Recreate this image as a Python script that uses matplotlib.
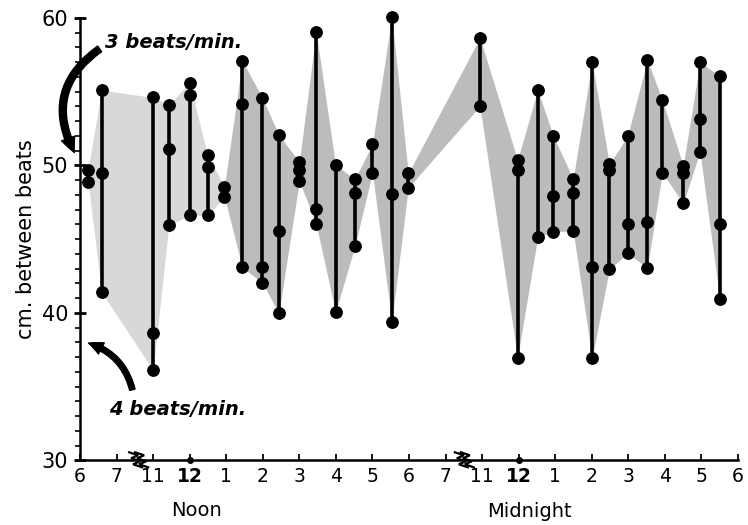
import numpy as np
import matplotlib
matplotlib.use("Agg")
import matplotlib.pyplot as plt
from matplotlib.patches import FancyArrowPatch

# ---- data (x = position on the hour axis, index of tick) ----
times = [0.22, 0.59, 2.0, 2.43, 3.0, 3.49, 3.95, 4.44, 4.99, 5.44, 6.0, 6.46, 6.99, 7.52,
         8.0, 8.53, 8.98, 10.94, 11.97, 12.52, 12.95, 13.49, 14.01, 14.48, 14.98, 15.52,
         15.93, 16.5, 16.96, 17.5]
high = [49.7, 55.1, 54.6, 54.1, 55.6, 50.7, 48.55, 57.07, 54.58, 52.05, 50.24, 59.06,
        50.02, 49.07, 51.44, 60.07, 49.46, 58.65, 50.36, 55.1, 51.99, 49.07, 57.03, 50.07,
        51.99, 57.14, 54.43, 49.97, 56.98, 56.05]
middle = [np.nan, 49.5, 38.65, 51.1, 54.8, 49.9, np.nan, 54.13, 43.13, 45.55, 49.68, 47.02,
          np.nan, 48.14, np.nan, 48.05, np.nan, np.nan, 49.68, np.nan, 47.94, 48.1, 43.13,
          49.68, 46.0, 46.18, np.nan, 49.46, 53.14, 46.02]
low = [48.9, 41.4, 36.1, 45.95, 46.6, 46.6, 47.87, 43.08, 42.04, 39.97, 48.94, 46.02,
       40.03, 44.53, 49.5, 39.4, 48.48, 54.02, 36.96, 45.12, 45.5, 45.55, 36.92, 42.95,
       44.03, 43.06, 49.5, 47.42, 50.92, 40.94]
tick_labels = ["6", "7", "11", "12", "1", "2", "3", "4", "5", "6", "7", "11", "12",
               "1", "2", "3", "4", "5", "6"]
break_positions = [1.59, 10.5]

t = np.array(times)
hi = np.array(high)
md = np.array(middle)
lo = np.array(low)

W, H = 748, 525
fig = plt.figure(figsize=(W / 100, H / 100), dpi=100)
ax = fig.add_axes([80 / W, 1 - 460.3 / H, (738 - 80) / W, (460.3 - 17.8) / H])
ax.set_xlim(0, 18)
ax.set_ylim(30, 60)

# shaded band
split = 6
ax.fill_between(t[:split + 1], lo[:split + 1], hi[:split + 1], color="#d8d8d8",
                linewidth=0, zorder=1)
ax.fill_between(t[split:], lo[split:], hi[split:], color="#bcbcbc",
                linewidth=0, zorder=1)

# vertical lines and dots
ax.vlines(t, lo, hi, color="black", linewidth=2.6, zorder=3)
for arr in (hi, lo, md):
    ax.plot(t, arr, "o", color="black", markersize=8.2, zorder=4, clip_on=False)

# axes styling
for s in ["top", "right"]:
    ax.spines[s].set_visible(False)
for s in ["left", "bottom"]:
    ax.spines[s].set_linewidth(1.8)

ax.set_yticks([30, 40, 50, 60])
ax.set_yticks(np.arange(30, 61, 1), minor=True)
ax.tick_params(axis="y", which="major", direction="inout", length=9, width=2,
               labelsize=15, pad=4)
ax.tick_params(axis="y", which="minor", direction="out", length=3.5, width=1.2)

ax.set_xticks(np.arange(19))
ax.set_xticklabels(tick_labels)
ax.tick_params(axis="x", which="major", direction="in", length=4, width=1.3,
               labelsize=13.5, pad=5)
for i, lab in enumerate(ax.get_xticklabels()):
    if tick_labels[i] == "12":
        lab.set_fontweight("bold")

# dots on the axis at 12
ax.plot([3, 12], [30, 30], "o", color="black", markersize=4, clip_on=False, zorder=5)

ax.set_ylabel("cm. between beats", fontsize=15, labelpad=4)

# Noon / Midnight
ax.text(3.2, 26.6, "Noon", ha="center", va="center", fontsize=14)
ax.text(12.3, 26.5, "Midnight", ha="center", va="center", fontsize=14)

# axis breaks (zigzags), drawn in pixel offsets
px = 1 / 36.56
py = 1 / 14.75
zx = np.array([-6, 3, -4, 5, -2, 7])
zy = np.array([8, 5, 2, -1, -4, -7])
for xc in break_positions:
    for off in (-3, 3):
        ax.plot(xc + (zx + off) * px, 30 + zy * py, color="black", linewidth=1.6,
                clip_on=False, zorder=6, solid_joinstyle="miter")

# annotations
ax.text(0.68, 58.3, "3 beats/min.", fontsize=14, fontweight="bold", fontstyle="italic",
        ha="left", va="center")
ax.text(0.8, 33.45, "4 beats/min.", fontsize=14, fontweight="bold", fontstyle="italic",
        ha="left", va="center")

a1 = FancyArrowPatch((0.6, 58.0), (-0.12, 50.7), connectionstyle="arc3,rad=0.45",
                     arrowstyle="simple,head_width=10,head_length=11,tail_width=5",
                     color="black", clip_on=False, zorder=6)
ax.add_patch(a1)
a2 = FancyArrowPatch((1.45, 34.6), (0.16, 38.0), connectionstyle="arc3,rad=0.3",
                     arrowstyle="simple,head_width=9,head_length=10,tail_width=4",
                     color="black", clip_on=False, zorder=6)
ax.add_patch(a2)

fig.savefig("out.png", dpi=100)
